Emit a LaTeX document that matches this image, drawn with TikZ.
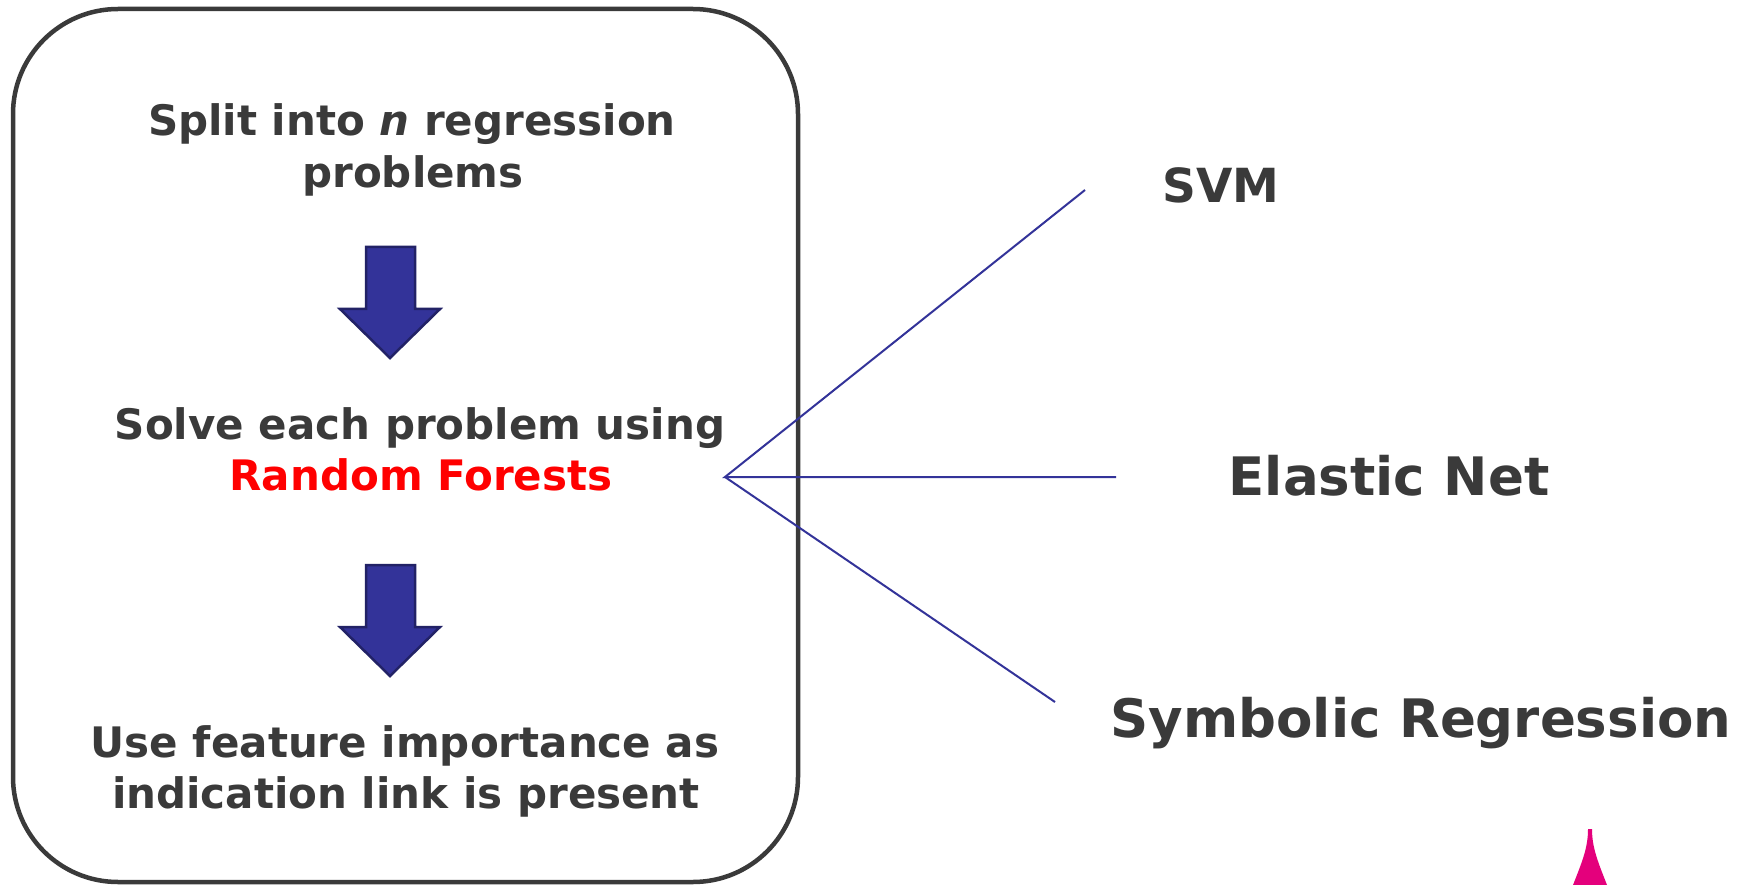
\documentclass[tikz,border=0pt]{standalone}
\usepackage{fontspec}
\setmainfont{DejaVu Sans}
\definecolor{txtgray}{RGB}{58,58,58}
\definecolor{boxgray}{RGB}{58,58,58}
\definecolor{navy}{RGB}{51,51,153}
\definecolor{navydark}{RGB}{34,34,102}
\definecolor{rfred}{RGB}{255,0,0}
\definecolor{spikepink}{RGB}{228,0,124}
\begin{document}
\begin{tikzpicture}[x=1pt,y=-1pt,
  boxtext/.style={anchor=base,inner sep=0pt,text=txtgray,font=\fontsize{42}{50}\selectfont\bfseries},
  bigtext/.style={anchor=base,inner sep=0pt,text=txtgray,font=\fontsize{53}{60}\selectfont\bfseries},
  svmtext/.style={anchor=base,inner sep=0pt,text=txtgray,font=\fontsize{47}{55}\selectfont\bfseries},
  downarrow/.style={fill=navy,draw=navydark,line width=2.5pt,line join=miter},
  fanline/.style={draw=navy,line width=2pt},
  framebox/.style={draw=boxgray,line width=4.5pt,rounded corners=105pt}]
\useasboundingbox (0,0) rectangle (1748,885);
\fill[white] (0,0) rectangle (1748,885);
% frame
\draw[framebox] (13,9) rectangle (798,882);
% box texts
\node[boxtext] (t1a) at (412,136) {Split into \textit{n} regression};
\node[boxtext] (t1b) at (413,188) {problems};
\node[boxtext] (t2a) at (420,439) {Solve each problem using};
\node[boxtext,text=rfred] (t2b) at (421,490) {Random Forests};
\node[boxtext] (t3a) at (405,757) {Use feature importance as};
\node[boxtext] (t3b) at (406,808) {indication link is present};
% arrows
\draw[downarrow] (366,247) -- (415,247) -- (415,309) -- (440,309) -- (390,358) -- (340,309) -- (366,309) -- cycle;
\draw[downarrow] (366,565) -- (415,565) -- (415,627) -- (440,627) -- (390,676) -- (340,627) -- (366,627) -- cycle;
% fan
\coordinate (fo) at (725,477);
\coordinate (fe1) at (1085,190);
\coordinate (fe2) at (1116,477);
\coordinate (fe3) at (1055,702);
\draw[fanline] (fe1) -- (fo) -- (fe2);
\draw[fanline] (fo) -- (fe3);
% right labels
\node[svmtext] (svm) at (1221,203) {SVM};
\node[bigtext] (en) at (1389,495) {Elastic Net};
\node[bigtext] (sr) at (1421,737) {Symbolic Regression};
% pink spike
\fill[spikepink] (1573,885) .. controls (1582,862) and (1588,848) .. (1588,829) -- (1592,829) .. controls (1592,848) and (1598,862) .. (1607,885) -- cycle;
\end{tikzpicture}
\end{document}
